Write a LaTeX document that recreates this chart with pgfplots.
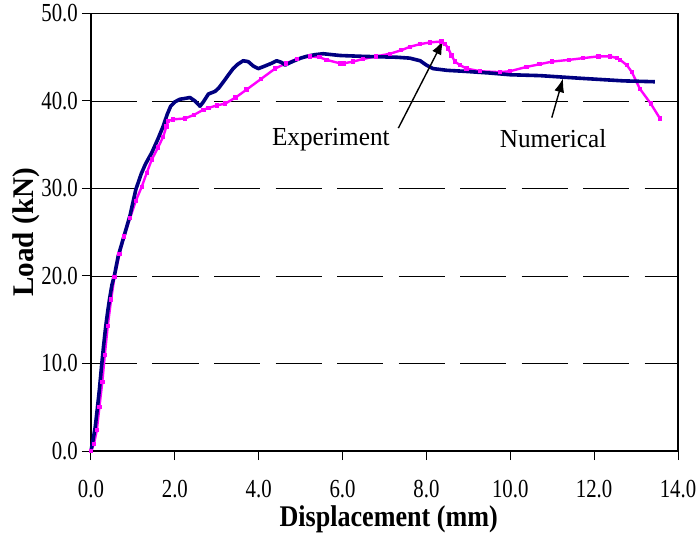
\documentclass[border=0pt]{standalone}
\usepackage{fontspec}
\setmainfont{Liberation Serif}
\newfontfamily\tickfont[FakeStretch=0.8]{Liberation Serif}
\newfontfamily\annfont[FakeStretch=0.97]{Liberation Serif}
\newfontfamily\xlabfont[FakeStretch=0.87]{Liberation Serif}
\newfontfamily\ylabfont[FakeStretch=0.97]{Liberation Serif}
\usepackage{pgfplots}
\pgfplotsset{compat=1.18}
\usetikzlibrary{arrows.meta}
\definecolor{numnavy}{RGB}{0,0,128}
\definecolor{expmag}{RGB}{255,0,255}
\begin{document}
\begin{tikzpicture}
\begin{axis}[
  scale only axis,
  width=587bp, height=437.5bp,
  xmin=0, xmax=14, ymin=0, ymax=50,
  xtick={0,2,...,14}, ytick={0,10,...,50},
  xtick pos=left, ytick pos=left,
  tick align=outside,
  major tick length=9bp,
  tick style={black, line width=1bp},
  axis line style={black, line width=1.2bp},
  ymajorgrids,
  grid style={black, line width=0.9bp, dash pattern=on 46bp off 15.5bp},
  /pgf/number format/.cd, fixed, fixed zerofill, precision=1, assume math mode=true,
  /pgfplots/.cd,
  xticklabel style={font=\tickfont\fontsize{26bp}{28bp}\selectfont, anchor=north, inner sep=0pt, yshift=-20bp},
  yticklabel style={font=\tickfont\fontsize{26bp}{28bp}\selectfont, anchor=east, inner sep=0pt, xshift=-4bp},
  xlabel={\xlabfont\bfseries Displacement (mm)},
  ylabel={\ylabfont\bfseries Load (kN)},
  xlabel style={font=\fontsize{30bp}{34bp}\selectfont, at={(axis description cs:0.507,-0.1737)}, anchor=base, inner sep=0pt},
  ylabel style={font=\fontsize{30bp}{34bp}\selectfont, at={(axis description cs:-0.0988,0.5)}, anchor=base, inner sep=0pt},
  clip=false,
]
\draw[black, line width=2.2bp] (rel axis cs:0,1) -- (rel axis cs:0,0) -- (rel axis cs:1,0);

% Experiment (magenta)
\addplot[expmag, line width=2.4bp, mark=square*, mark size=1.0bp, mark options={solid, fill=expmag}] coordinates {
(0,0) (0.07,0.8) (0.14,2.4) (0.2,5.0) (0.27,7.9) (0.33,11.0) (0.40,14.3) (0.48,17.3)
(0.56,19.9) (0.68,22.5) (0.79,24.5) (0.93,26.6) (1.07,28.6) (1.21,30.2) (1.33,31.8)
(1.45,33.3) (1.6,34.7) (1.72,35.9) (1.80,37.1) (1.84,37.7) (1.95,37.9) (2.24,38.0)
(2.45,38.4) (2.68,39.0) (2.80,39.2) (3.0,39.5) (3.20,39.7) (3.45,40.4) (3.71,41.3)
(4.05,42.5) (4.39,43.7) (4.65,44.3) (4.91,44.8) (5.22,45.1) (5.45,45.0) (5.62,44.7)
(5.94,44.3) (6.02,44.3) (6.25,44.5) (6.49,44.8) (6.8,45.1) (7.13,45.4) (7.4,45.8)
(7.61,46.2) (7.85,46.5) (8.09,46.7) (8.36,46.8) (8.45,46.5) (8.52,46.0) (8.6,45.2)
(8.68,44.5) (8.8,44.1) (8.96,43.7) (9.28,43.4) (9.75,43.3) (9.99,43.4) (10.39,43.9)
(10.7,44.2) (10.99,44.5) (11.4,44.7) (11.74,44.9) (12.1,45.1) (12.38,45.1) (12.55,44.9)
(12.62,44.7) (12.78,44.1) (12.90,43.3) (13.09,41.4) (13.35,39.7) (13.57,38.0)
};

% Numerical (navy)
\addplot[numnavy, line width=3.6bp, mark=none, line join=round] coordinates {
(0,0) (0.05,1.3) (0.1,2.7) (0.15,4.8) (0.2,7.0) (0.25,9.6) (0.3,12.0) (0.35,14.2)
(0.4,16.0) (0.45,17.6) (0.5,19.0) (0.556,20.0) (0.65,22.3) (0.79,24.6) (0.93,26.9)
(1.07,29.9) (1.2,31.7) (1.3,32.8) (1.45,34.1) (1.6,35.7) (1.72,37.1) (1.82,38.5)
(1.9,39.4) (2.0,39.9) (2.12,40.2) (2.25,40.3) (2.36,40.4) (2.48,40.0) (2.6,39.4) (2.68,39.9)
(2.8,40.8) (2.96,41.1) (3.05,41.5) (3.16,42.2) (3.28,43.0) (3.39,43.7) (3.5,44.2)
(3.63,44.6) (3.75,44.5) (3.87,44.0) (3.99,43.7) (4.15,44.0) (4.3,44.3) (4.43,44.6)
(4.55,44.4) (4.63,44.1) (4.8,44.5) (5.0,44.9) (5.14,45.1) (5.35,45.3) (5.54,45.4)
(5.94,45.2) (6.49,45.1) (7.29,45.0) (7.6,44.9) (7.85,44.6) (8.0,44.1) (8.16,43.7)
(8.5,43.5) (8.88,43.4) (9.5,43.2) (10.0,43.0) (10.71,42.9) (11.66,42.6) (12.7,42.3)
(13.45,42.2)
};

\node[font=\annfont\fontsize{26bp}{28bp}\selectfont, anchor=base, inner sep=0pt] at (axis cs:5.72,34.86) {Experiment};
\node[font=\annfont\fontsize{26bp}{28bp}\selectfont, anchor=base, inner sep=0pt] at (axis cs:11.02,34.66) {Numerical};
\draw[black, line width=1.4bp, -{Latex[length=14bp,width=10bp]}] (axis cs:7.33,36.9) -- (axis cs:8.40,46.9);
\draw[black, line width=1.4bp, -{Latex[length=14bp,width=10bp]}] (axis cs:10.99,38.1) -- (axis cs:11.26,42.6);
\end{axis}
\pgfresetboundingbox
\path[use as bounding box] (-91bp,-82bp) rectangle (606bp,451bp);
\end{tikzpicture}
\end{document}
